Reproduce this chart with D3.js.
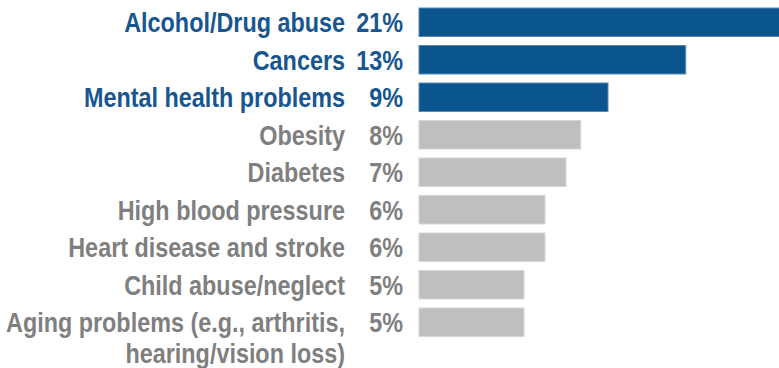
<!DOCTYPE html>
<html>
<head>
<meta charset="utf-8">
<script src="https://cdn.jsdelivr.net/npm/d3@7"></script>
<style>
  html, body { margin: 0; padding: 0; background: #ffffff; overflow: hidden; }
  svg { display: block; }
  text { font-family: "Liberation Sans", Arial, sans-serif; font-weight: bold; }
</style>
</head>
<body>
<svg id="chart" width="779" height="368"></svg>
<script>
const categories = [
  ["Alcohol/Drug abuse"],
  ["Cancers"],
  ["Mental health problems"],
  ["Obesity"],
  ["Diabetes"],
  ["High blood pressure"],
  ["Heart disease and stroke"],
  ["Child abuse/neglect"],
  ["Aging problems (e.g., arthritis,", "hearing/vision loss)"]
];
const values = [21.5, 12.7, 9.0, 7.7, 7.0, 6.0, 6.0, 5.0, 5.0];
const valueLabels = ["21%", "13%", "9%", "8%", "7%", "6%", "6%", "5%", "5%"];
const highlighted = [true, true, true, false, false, false, false, false, false];

const W = 779, H = 368;
const svg = d3.select("#chart");

const keys = categories.map((c, i) => i);
const y = d3.scaleBand().domain(keys).range([3.5, 341]).paddingInner(0.24).paddingOuter(0.12);
const x = d3.scaleLinear().domain([0, 20]).range([419, 839]);

const barFill = d => highlighted[d] ? "#0b558f" : "#bfbfbf";
const barStroke = d => highlighted[d] ? "#5a87b3" : "#d6d6d6";
const textFill = d => highlighted[d] ? "#17568f" : "#7f7f7f";

svg.selectAll("rect.bar").data(keys).join("rect")
  .attr("class", "bar")
  .attr("x", x(0))
  .attr("y", d => y(d))
  .attr("width", d => x(values[d]) - x(0))
  .attr("height", y.bandwidth())
  .attr("fill", barFill)
  .attr("stroke", barStroke)
  .attr("stroke-width", 1);

const fs = 27, sx = 0.866;
const base = d => y(d) + y.bandwidth() / 2 + 10;

const labels = svg.selectAll("text.cat").data(keys).join("text")
  .attr("class", "cat")
  .attr("text-anchor", "end")
  .attr("font-size", fs)
  .attr("fill", textFill)
  .attr("transform", d => `translate(345,${base(d)}) scale(${sx},1)`);
labels.selectAll("tspan").data(d => categories[d].map((t, j) => ({t, j}))).join("tspan")
  .attr("x", 0)
  .attr("dy", p => p.j === 0 ? 0 : 31)
  .text(p => p.t);

svg.selectAll("text.val").data(keys).join("text")
  .attr("class", "val")
  .attr("text-anchor", "end")
  .attr("font-size", fs)
  .attr("fill", textFill)
  .attr("transform", d => `translate(403,${base(d)}) scale(${sx},1)`)
  .text(d => valueLabels[d]);
</script>
</body>
</html>
